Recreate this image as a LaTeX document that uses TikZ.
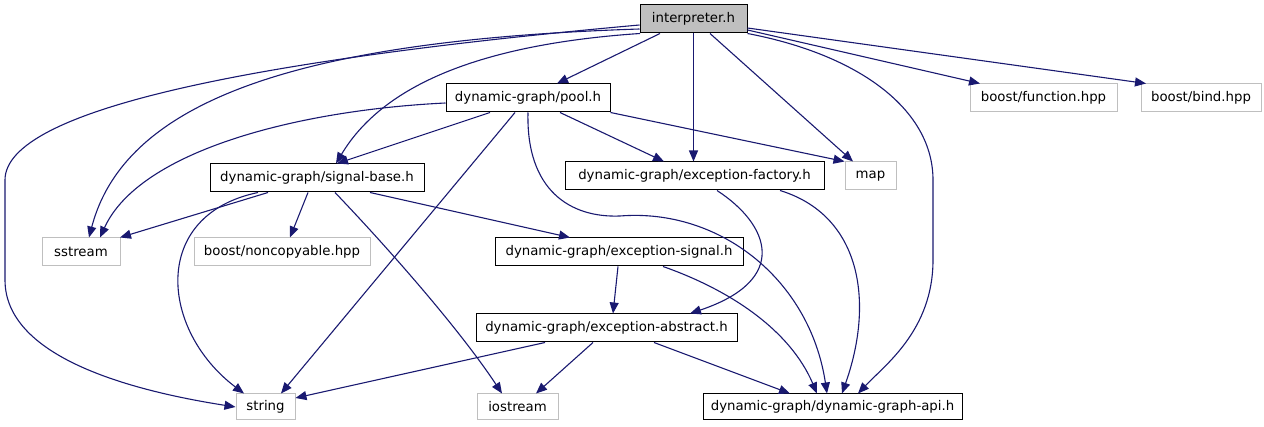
\documentclass[tikz,border=0pt]{standalone}
\usepackage{fontspec}
\setmainfont{DejaVu Sans}
\usetikzlibrary{arrows.meta}
\definecolor{edgeblue}{HTML}{191970}
\definecolor{boxgray}{HTML}{BFBFBF}
\begin{document}
\begin{tikzpicture}[x=1pt,y=-1pt]
	\tikzstyle{every node}+=[inner sep=0pt, minimum height=28pt, font=\fontsize{13.3}{16}\selectfont]
	\tikzstyle{hdr}=[draw=black, fill=boxgray, line width=1pt]
	\tikzstyle{loc}=[draw=black, line width=1pt]
	\tikzstyle{ext}=[draw=boxgray, line width=1pt]
	\tikzstyle{inc}=[draw=edgeblue, line width=1.1pt, -{Triangle[length=11pt,width=9pt]}]
	\useasboundingbox (0,0) rectangle (1264,427);
	\node [hdr, minimum width=107pt] (interp) at (693.5,19) {interpreter.h};
	\node [loc, minimum width=164pt] (pool) at (528,98) {dynamic-graph/pool.h};
	\node [ext, minimum width=147pt] (function) at (1043.5,98) {boost/function.hpp};
	\node [ext, minimum width=120pt] (bind) at (1201,98) {boost/bind.hpp};
	\node [loc, minimum width=214pt] (sigbase) at (317,178) {dynamic-graph/signal-base.h};
	\node [loc, minimum width=259pt] (excfact) at (694.5,176) {dynamic-graph/exception-factory.h};
	\node [ext, minimum width=51pt] (map) at (870.5,176) {map};
	\node [ext, minimum width=78pt] (sstream) at (81,252) {sstream};
	\node [ext, minimum width=176pt] (noncopy) at (282,252) {boost/noncopyable.hpp};
	\node [loc, minimum width=248pt] (excsig) at (619,252) {dynamic-graph/exception-signal.h};
	\node [loc, minimum width=261pt] (excabs) at (606.5,328) {dynamic-graph/exception-abstract.h};
	\node [ext, minimum width=59pt, minimum height=26pt] (string) at (265.5,407) {string};
	\node [ext, minimum width=81pt, minimum height=26pt] (iostream) at (517.5,407) {iostream};
	\node [loc, minimum width=259pt, minimum height=26pt] (dgapi) at (832.5,407) {dynamic-graph/dynamic-graph-api.h};
	\draw [inc] (660,0 |- interp.south) -- (557,0 |- pool.north);
	\draw [inc] (interp.south) -- (693.5,0 |- excfact.north);
	\draw [inc] (710,0 |- interp.south) -- (853,0 |- map.north);
	\draw [inc] (interp.east |- 0,30) -- (980,0 |- function.north);
	\draw [inc] (interp.east |- 0,28) -- (1146,0 |- bind.north);
	\draw [inc] (interp.west |- 0,25) .. controls (250,60) and (5,110) .. (5,180) -- (5,280) .. controls (5,360) and (140,392) .. (string.west);
	\draw [inc] (interp.west |- 0,29) .. controls (300,40) and (125,100) .. (89,0 |- sstream.north);
	\draw [inc] (640,0 |- interp.south) .. controls (470,45) and (380,90) .. (336,0 |- sigbase.north);
	\draw [inc] (interp.south east) .. controls (860,55) and (933,110) .. (933,180) -- (933,260) .. controls (933,330) and (885,365) .. (858,0 |- dgapi.north);
	\draw [inc] (490,0 |- pool.south) -- (337,0 |- sigbase.north);
	\draw [inc] (pool.west |- 0,103) .. controls (300,110) and (140,150) .. (100,0 |- sstream.north);
	\draw [inc] (515,0 |- pool.south) -- (281,0 |- string.north);
	\draw [inc] (560,0 |- pool.south) -- (664,0 |- excfact.north);
	\draw [inc] (pool.south east) -- (map.north west);
	\draw [inc] (528,0 |- pool.south) .. controls (526,190) and (570,218) .. (620,216) .. controls (720,208) and (810,280) .. (827,0 |- dgapi.north);
	\draw [inc] (268,0 |- sigbase.south) -- (120,0 |- sstream.north);
	\draw [inc] (308,0 |- sigbase.south) -- (290,0 |- noncopy.north);
	\draw [inc] (258,0 |- sigbase.south) .. controls (150,215) and (160,330) .. (244,0 |- string.north);
	\draw [inc] (335,0 |- sigbase.south) .. controls (390,250) and (460,330) .. (502,0 |- iostream.north);
	\draw [inc] (370,0 |- sigbase.south) -- (570,0 |- excsig.north);
	\draw [inc] (717,0 |- excfact.south) .. controls (770,225) and (790,280) .. (690,0 |- excabs.north);
	\draw [inc] (780,0 |- excfact.south) .. controls (860,215) and (875,300) .. (842,0 |- dgapi.north);
	\draw [inc] (618,0 |- excsig.south) -- (613,0 |- excabs.north);
	\draw [inc] (663,0 |- excsig.south) .. controls (730,290) and (790,330) .. (817,0 |- dgapi.north);
	\draw [inc] (545,0 |- excabs.south) -- (string.east |- 0,398);
	\draw [inc] (593,0 |- excabs.south) -- (536,0 |- iostream.north);
	\draw [inc] (654,0 |- excabs.south) -- (790,0 |- dgapi.north);
\end{tikzpicture}
\end{document}
